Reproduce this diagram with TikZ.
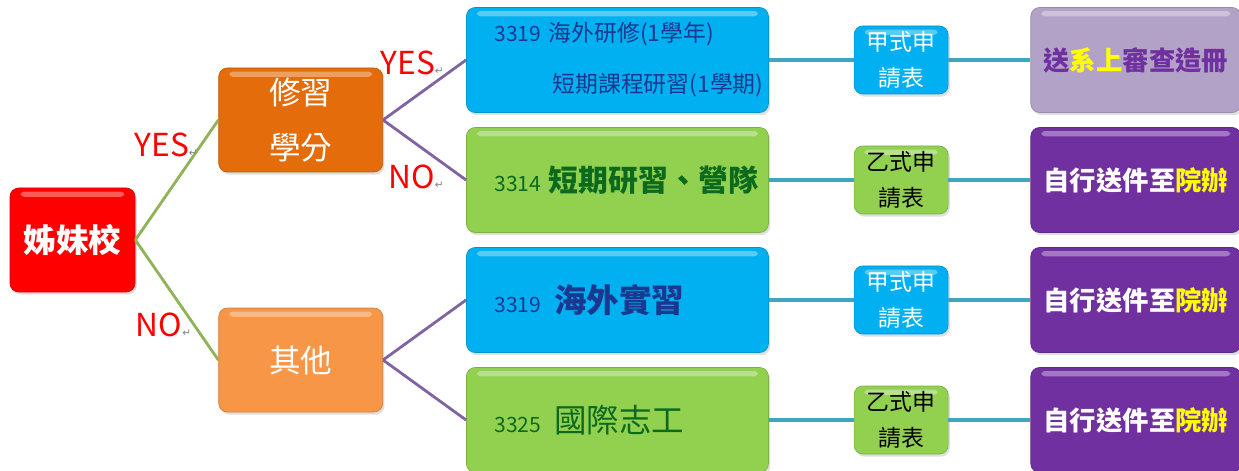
\documentclass[tikz,border=0pt]{standalone}
\usepackage{fontspec}
\setmainfont{Noto Sans CJK TC}
\newfontfamily\symfont{DejaVu Sans}
\usetikzlibrary{positioning,shadows}

\definecolor{rootred}{HTML}{FF0000}
\definecolor{creditorange}{HTML}{E46C0A}
\definecolor{otherorange}{HTML}{F79646}
\definecolor{skyblue}{HTML}{00B0F0}
\definecolor{navytext}{HTML}{1A3890}
\definecolor{leafgreen}{HTML}{92D050}
\definecolor{darkgreentext}{HTML}{0B6A1E}
\definecolor{lilac}{HTML}{B3A2C7}
\definecolor{grape}{HTML}{7030A0}
\definecolor{hiyellow}{HTML}{FFFF00}
\definecolor{olivelink}{HTML}{8FB356}
\definecolor{purplelink}{HTML}{8064A2}
\definecolor{teallink}{HTML}{3FA6C0}

\newcommand{\ret}{{\symfont\fontsize{6}{6}\selectfont\textcolor{gray}{↵}}}
\newcommand{\coursecode}[1]{{\fontsize{12}{14}\selectfont #1}}

\begin{document}
\begin{tikzpicture}[
  node distance=1.66cm,
  flowbox/.style={rounded corners=5pt, align=center, inner sep=2pt,
    drop shadow={opacity=0.25, shadow xshift=1pt, shadow yshift=-1.5pt},
    path picture={\fill[white, opacity=0.35, rounded corners=2pt]
      ([xshift=6pt,yshift=-2pt]path picture bounding box.north west) rectangle
      ([xshift=-6pt,yshift=-5pt]path picture bounding box.north east);}},
  rootbox/.style={flowbox, fill=rootred, draw=rootred!85!black, text=white,
    minimum width=2.5cm, minimum height=2.08cm, font=\fontsize{18.5}{22}\selectfont\bfseries},
  midbox/.style={flowbox, text=white, minimum width=3.28cm, minimum height=2.08cm,
    font=\fontsize{18}{31}\selectfont},
  coursebox/.style={flowbox, align=left, text width=5.84cm, inner xsep=0.1cm,
    minimum height=2.1cm, font=\fontsize{13}{29}\selectfont},
  bluecourse/.style={coursebox, fill=skyblue, draw=skyblue!85!black, text=navytext},
  greencourse/.style={coursebox, fill=leafgreen, draw=leafgreen!85!black, text=darkgreentext},
  formbox/.style={flowbox, minimum width=1.88cm, minimum height=1.36cm,
    font=\fontsize{13}{21}\selectfont},
  resultbox/.style={flowbox, minimum width=4.2cm, minimum height=2.1cm,
    font=\fontsize{15}{18}\selectfont\bfseries},
  answer/.style={text=red, font=\fontsize{18}{20}\selectfont, inner sep=1pt},
  branch/.style={line width=1.6pt},
  link/.style={line width=2pt, teallink}
]
\useasboundingbox (0,0) rectangle (24.78,-9.42);

\node[rootbox] (school) at (1.45,-4.8) {姊妹校};
\node[midbox, fill=creditorange, draw=creditorange!85!black, right=of school, yshift=2.4cm] (credit) {修習\\學分};
\node[midbox, fill=otherorange, draw=otherorange!85!black, right=of school, yshift=-2.4cm] (other) {其他};

\node[bluecourse, right=of credit, yshift=1.2cm] (abroad)
  {\hspace*{0.46cm}\coursecode{3319} 海外研修(1學年)\\\hfill 短期課程研習(1學期)};
\node[greencourse, right=of credit, yshift=-1.2cm] (camp)
  {\hspace*{0.46cm}\coursecode{3314} {\fontsize{17}{20}\selectfont\bfseries 短期研習、營隊}};
\node[bluecourse, right=of other, yshift=1.2cm] (intern)
  {\hspace*{0.46cm}\coursecode{3319}\hspace{0.26cm}{\fontsize{18.5}{22}\selectfont\bfseries 海外實習}};
\node[greencourse, right=of other, yshift=-1.2cm] (volunteer)
  {\hspace*{0.46cm}\coursecode{3325}\hspace{0.26cm}{\fontsize{18.5}{22}\selectfont 國際志工}};

\node[formbox, fill=skyblue, draw=skyblue!85!black, text=white, right=1.7cm of abroad] (formA1) {甲式申\\請表};
\node[formbox, fill=leafgreen, draw=leafgreen!85!black, text=black, right=1.7cm of camp] (formB1) {乙式申\\請表};
\node[formbox, fill=skyblue, draw=skyblue!85!black, text=white, right=1.7cm of intern] (formA2) {甲式申\\請表};
\node[formbox, fill=leafgreen, draw=leafgreen!85!black, text=black, right=1.7cm of volunteer] (formB2) {乙式申\\請表};

\node[resultbox, fill=lilac, draw=lilac!85!black, text=grape, right=1.64cm of formA1] (dept)
  {送\textcolor{hiyellow}{系上}審查造冊};
\node[resultbox, fill=grape, draw=grape!85!black, text=white, right=1.64cm of formB1] (office1)
  {自行送件至\textcolor{hiyellow}{院辦}};
\node[resultbox, fill=grape, draw=grape!85!black, text=white, right=1.64cm of formA2] (office2)
  {自行送件至\textcolor{hiyellow}{院辦}};
\node[resultbox, fill=grape, draw=grape!85!black, text=white, right=1.64cm of formB2] (office3)
  {自行送件至\textcolor{hiyellow}{院辦}};

\draw[branch, olivelink] (school.east) -- (credit.west) node[answer, pos=0.79, anchor=east] {YES\ret};
\draw[branch, olivelink] (school.east) -- (other.west) node[answer, pos=0.71, anchor=east] {NO\ret};
\draw[branch, purplelink] (credit.east) -- (abroad.west) node[answer, pos=0.95, anchor=east, xshift=-0.3cm] {YES\ret};
\draw[branch, purplelink] (credit.east) -- (camp.west) node[answer, pos=0.95, anchor=east, xshift=-0.3cm] {NO\ret};
\draw[branch, purplelink] (other.east) -- (intern.west);
\draw[branch, purplelink] (other.east) -- (volunteer.west);

\draw[link] (abroad) -- (formA1);
\draw[link] (camp) -- (formB1);
\draw[link] (intern) -- (formA2);
\draw[link] (volunteer) -- (formB2);
\draw[link] (formA1) -- (dept);
\draw[link] (formB1) -- (office1);
\draw[link] (formA2) -- (office2);
\draw[link] (formB2) -- (office3);
\end{tikzpicture}
\end{document}
